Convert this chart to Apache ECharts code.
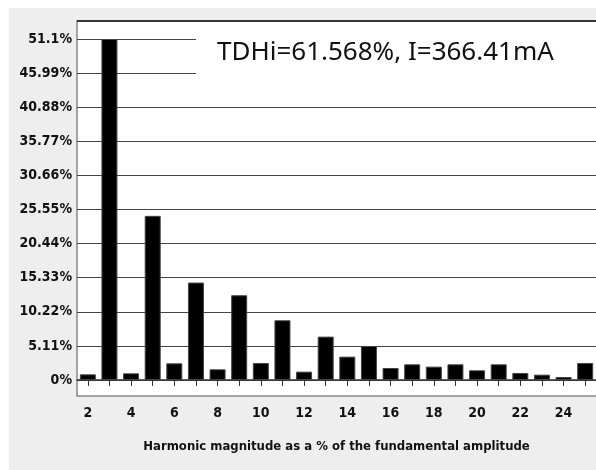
<!DOCTYPE html>
<html>
<head>
<meta charset="utf-8">
<script src="https://cdn.jsdelivr.net/npm/echarts@6/dist/echarts.min.js"></script>
<style>
  html, body { margin: 0; padding: 0; background: #fff; }
  #chart { width: 596px; height: 470px; }
</style>
</head>
<body>
<div id="chart"></div>
<script>
// harmonic orders on the x axis
var harmonics = ['2','3','4','5','6','7','8','9','10','11','12','13','14','15','16','17','18','19','20','21','22','23','24','25'];
// magnitude, % of fundamental
var magnitudes = [0.85, 51.1, 1.0, 24.6, 2.5, 14.6, 1.6, 12.7, 2.55, 8.95, 1.25, 6.5, 3.5, 5.1, 1.8, 2.35, 2.0, 2.35, 1.45, 2.35, 1.05, 0.8, 0.45, 2.55];
// y axis tick step and top
var yStep = 5.11;
var yTop = 51.1;
var headline = 'TDHi=61.568%, I=366.41mA';
var xTitle = 'Harmonic magnitude as a % of the fundamental amplitude';

var narrow = '"DejaVu Sans Condensed", sans-serif';

var myChart = echarts.init(document.getElementById('chart'));

var option = {
    backgroundColor: '#ffffff',
    animation: false,
    grid: {
        left: 77,
        right: -2,
        top: 39,
        bottom: 90
    },
    graphic: [
        // grey panel
        { type: 'rect', z: -10, shape: { x: 9, y: 8, width: 600, height: 462 }, style: { fill: '#eeeeee' } },
        // white plot box
        { type: 'rect', z: -9, shape: { x: 77, y: 21, width: 530, height: 375 }, style: { fill: '#ffffff', stroke: '#888888', lineWidth: 1.5 } },
        { type: 'line', z: -8, shape: { x1: 77, y1: 21, x2: 600, y2: 21 }, style: { stroke: '#333333', lineWidth: 2 } },
        // box hiding the grid lines behind the headline
        { type: 'rect', z: 50, shape: { x: 196, y: 22.5, width: 410, height: 70 }, style: { fill: '#ffffff' } },
        { type: 'text', z: 51, style: { x: 217, y: 40, text: headline, fill: '#111111', font: '26px "Noto Sans", sans-serif' } }
    ],
    xAxis: {
        type: 'category',
        data: harmonics,
        offset: 16,
        axisLine: { lineStyle: { color: '#333333', width: 1.5 } },
        axisTick: { show: true, alignWithLabel: true, interval: 0, length: 6, lineStyle: { color: '#333333' } },
        axisLabel: {
            interval: 1,
            margin: 10,
            color: '#111111',
            fontFamily: narrow,
            fontWeight: 'bold',
            fontSize: 14
        },
        name: xTitle,
        nameLocation: 'middle',
        nameGap: 44,
        nameTextStyle: {
            color: '#111111',
            fontFamily: narrow,
            fontWeight: 'bold',
            fontSize: 13
        }
    },
    yAxis: {
        type: 'value',
        min: 0,
        max: yTop,
        interval: yStep,
        axisLine: { show: false },
        axisTick: { show: false },
        splitLine: { lineStyle: { color: '#444444', width: 1.2 } },
        axisLabel: {
            margin: 5,
            color: '#111111',
            fontFamily: narrow,
            fontWeight: 'bold',
            fontSize: 14,
            formatter: function (v) {
                return (+v.toFixed(2)) + '%';
            }
        }
    },
    series: [{
        type: 'bar',
        data: magnitudes,
        barWidth: 16,
        itemStyle: { color: '#000000', borderColor: '#444444', borderWidth: 1 }
    }]
};

myChart.setOption(option);
window.addEventListener('resize', function () {
    myChart.resize();
});
</script>
</body>
</html>
